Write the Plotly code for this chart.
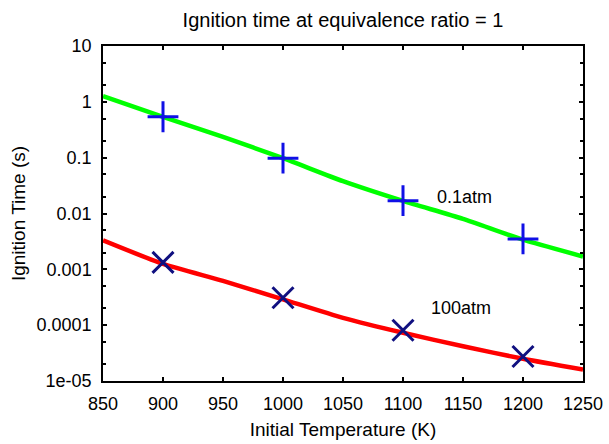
import math
import plotly.graph_objects as go

# model curves (temperature K -> ignition time s)
temps = [850, 900, 950, 1000, 1050, 1100, 1150, 1200, 1250]
ign_01atm = [1.26, 0.54, 0.235, 0.098, 0.038, 0.0168, 0.0080, 0.0034, 0.0017]
ign_100atm = [0.0033, 0.00125, 0.00062, 0.00029, 0.000135, 0.000073, 0.000042, 0.000025, 0.000016]

# measured points
exp_temps = [900, 1000, 1100, 1200]
exp_01atm = [0.54, 0.098, 0.017, 0.0035]
exp_100atm = [0.00133, 0.00031, 0.000081, 0.0000275]

font_name = "Liberation Sans, Arial, sans-serif"

fig = go.Figure()
fig.add_trace(go.Scatter(x=temps, y=ign_01atm, mode="lines",
                         line=dict(color="#00ff00", width=4.5, shape="spline", smoothing=0.6)))
fig.add_trace(go.Scatter(x=temps, y=ign_100atm, mode="lines",
                         line=dict(color="#ff0000", width=4.5, shape="spline", smoothing=0.6)))
fig.add_trace(go.Scatter(x=exp_temps, y=exp_01atm, mode="markers",
                         marker=dict(symbol="cross-thin", size=22,
                                     line=dict(color="#1010e6", width=3))))
fig.add_trace(go.Scatter(x=exp_temps, y=exp_100atm, mode="markers",
                         marker=dict(symbol="x-thin", size=21,
                                     line=dict(color="#101080", width=3))))

# annotation y is given in log10 units on a log axis
fig.add_annotation(x=1151, y=math.log10(0.0201), text="0.1atm", showarrow=False,
                   font=dict(size=18, color="black", family=font_name))
fig.add_annotation(x=1148, y=math.log10(0.000205), text="100atm", showarrow=False,
                   font=dict(size=18, color="black", family=font_name))

fig.update_layout(
    width=609, height=444,
    margin=dict(l=103, r=26, t=46, b=63),
    paper_bgcolor="white", plot_bgcolor="white",
    showlegend=False,
    font=dict(family=font_name, size=18, color="black"),
    title=dict(text="Ignition time at equivalence ratio = 1", x=0.5, xref="paper",
               xanchor="center", y=1 - 20 / 444, yanchor="middle",
               font=dict(size=20, color="black")),
)
fig.update_xaxes(
    range=[850, 1250], dtick=50, tick0=850,
    ticks="inside", ticklen=4, tickwidth=1.5, tickcolor="black",
    showline=True, linecolor="black", linewidth=1.5, mirror="ticks",
    showgrid=False, zeroline=False, ticklabelstandoff=6, automargin=False,
    title=dict(text="Initial Temperature (K)", font=dict(size=19), standoff=9),
)
fig.update_yaxes(
    type="log", range=[-5, 1],
    tickvals=[1e-5, 1e-4, 1e-3, 1e-2, 1e-1, 1, 10],
    ticktext=["1e-05", "0.0001", "0.001", "0.01", "0.1", "1", "10"],
    ticks="inside", ticklen=4, tickwidth=1.5, tickcolor="black",
    minor=dict(ticks="inside", ticklen=3, tickcolor="black", dtick="D2"),
    showline=True, linecolor="black", linewidth=1.5, mirror="ticks",
    showgrid=False, zeroline=False, ticklabelstandoff=6, automargin=False,
    title=dict(text="Ignition Time (s)", font=dict(size=19), standoff=6),
)

# drop the browser's default 8px body margin so the figure sits at the window corner
fig.write_html("out.html", config={"displayModeBar": False},
               post_script="document.body.style.margin='0';document.body.style.overflow='hidden';")
